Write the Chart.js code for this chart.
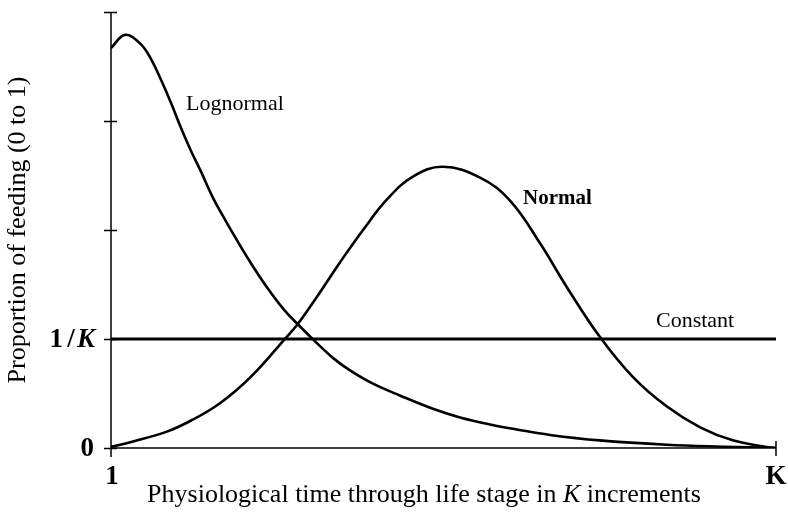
<!DOCTYPE html>
<html>
<head>
<meta charset="utf-8">
<script src="https://cdn.jsdelivr.net/npm/chart.js@4/dist/chart.umd.min.js"></script>
<style>
html,body{margin:0;padding:0;background:#fff;}
#wrap{width:788px;height:512px;position:relative;}
</style>
</head>
<body>
<div id="wrap"><canvas id="c" width="788" height="512"></canvas></div>
<script>
// ---- data (x: percent of life stage from 1 to K, y: proportion in units of 1/K) ----
const lognormalX = [0, 2.1, 4.4, 6, 7.5, 9, 10.5, 12, 13.5, 15.3, 17.1, 19, 21, 23.5, 26, 28.5, 31, 33.5, 36, 39.4, 43.5, 48.4, 52.5, 57, 61, 66, 73.5, 83.6, 92, 100];
const lognormalY = [3.67, 3.79, 3.71, 3.57, 3.38, 3.17, 2.94, 2.73, 2.54, 2.30, 2.10, 1.90, 1.70, 1.47, 1.27, 1.11, 0.96, 0.82, 0.71, 0.59, 0.48, 0.36, 0.28, 0.215, 0.17, 0.12, 0.07, 0.03, 0.012, 0];
const normalX = [0, 3.3, 8.4, 12.3, 15.9, 19.4, 22.4, 25.7, 28.0, 31.0, 34.4, 37.9, 41.5, 45.4, 49.9, 55.5, 60.0, 64.5, 68.6, 73.5, 78.5, 83.6, 88.6, 93.5, 98.6, 100];
const normalY = [0.01, 0.06, 0.15, 0.26, 0.39, 0.56, 0.74, 0.97, 1.13, 1.39, 1.70, 2.00, 2.28, 2.49, 2.58, 2.48, 2.27, 1.88, 1.47, 1.02, 0.65, 0.38, 0.19, 0.07, 0.01, 0];
const constantX = [0, 100];
const constantY = [1, 1];
const yTickValues = [0, 1, 2, 3, 4];
const yTickLabels = ['0', '1/K', '', '', ''];
const xTickValues = [0, 100];
const xTickLabels = ['1', 'K'];
const seriesNames = ['Lognormal', 'Normal', 'Constant'];

function pts(xs, ys){ return xs.map((x,i)=>({x:x, y:ys[i]})); }

const SERIF = '"Liberation Serif", "Times New Roman", serif';

const overlay = {
  id: 'overlay',
  afterDraw(chart){
    const ctx = chart.ctx;
    const xs = chart.scales.x, ys = chart.scales.y;
    const area = chart.chartArea;
    ctx.save();
    ctx.strokeStyle = '#000';
    ctx.fillStyle = '#000';
    // axes
    ctx.lineWidth = 1.5;
    ctx.beginPath();
    ctx.moveTo(area.left, area.top); ctx.lineTo(area.left, area.bottom + 9);
    ctx.moveTo(area.left, area.bottom); ctx.lineTo(area.right, area.bottom);
    ctx.stroke();
    // y tick marks crossing the axis
    ctx.beginPath();
    yTickValues.forEach(v=>{
      const py = Math.round(ys.getPixelForValue(v)) + 0.5;
      ctx.moveTo(area.left - 7, py); ctx.lineTo(area.left + 6, py);
    });
    // x tick at K
    const pk = Math.round(xs.getPixelForValue(xTickValues[1]));
    ctx.moveTo(pk, area.bottom - 7); ctx.lineTo(pk, area.bottom + 8);
    ctx.stroke();

    // y tick labels
    ctx.textBaseline = 'middle';
    yTickValues.forEach((v,i)=>{
      const lab = yTickLabels[i];
      if (!lab) return;
      const py = ys.getPixelForValue(v) + 1;
      if (lab.indexOf('/K') >= 0){
        const parts = lab.split('/');
        ctx.font = 'bold 27px ' + SERIF;
        ctx.textAlign = 'right';
        ctx.fillText(parts[0], area.left - 48, py);
        ctx.textAlign = 'center';
        ctx.fillText('/', area.left - 40, py);
        ctx.font = 'italic bold 27px ' + SERIF;
        ctx.textAlign = 'left';
        ctx.fillText('K', area.left - 34, py);
      } else {
        ctx.font = 'bold 27px ' + SERIF;
        ctx.textAlign = 'right';
        ctx.fillText(lab, area.left - 17, py);
      }
    });
    // x tick labels
    ctx.textAlign = 'center';
    ctx.font = 'bold 27px ' + SERIF;
    xTickValues.forEach((v,i)=>{
      ctx.fillText(xTickLabels[i], xs.getPixelForValue(v) + (i === 0 ? 1 : 0), area.bottom + 29);
    });

    // x axis title with italic K
    const segs = [['Physiological time through life stage in ', ''], ['K', 'italic '], [' increments', '']];
    ctx.textAlign = 'left';
    ctx.textBaseline = 'alphabetic';
    let total = 0;
    segs.forEach(s=>{ ctx.font = s[1] + '26px ' + SERIF; total += ctx.measureText(s[0]).width; });
    let cx = 424 - total/2;
    segs.forEach(s=>{ ctx.font = s[1] + '26px ' + SERIF; ctx.fillText(s[0], cx, 502); cx += ctx.measureText(s[0]).width; });

    // y axis title
    ctx.save();
    ctx.translate(18, 230);
    ctx.rotate(-Math.PI/2);
    ctx.textAlign = 'center';
    ctx.textBaseline = 'middle';
    ctx.font = '26px ' + SERIF;
    ctx.fillText('Proportion of feeding (0 to 1)', 0, 0);
    ctx.restore();

    // series labels
    ctx.textBaseline = 'middle';
    ctx.textAlign = 'left';
    ctx.font = '22px ' + SERIF;
    ctx.fillText(seriesNames[0], 186, 104);
    ctx.font = 'bold 21px ' + SERIF;
    ctx.fillText(seriesNames[1], 523, 199);
    ctx.font = '22px ' + SERIF;
    ctx.fillText(seriesNames[2], 656, 321);
    ctx.restore();
  }
};

new Chart(document.getElementById('c'), {
  type: 'line',
  data: {
    datasets: [
      { label: seriesNames[0], data: pts(lognormalX, lognormalY), borderColor: '#000', borderWidth: 2.6, pointRadius: 0, tension: 0.4, fill: false },
      { label: seriesNames[1], data: pts(normalX, normalY), borderColor: '#000', borderWidth: 2.6, pointRadius: 0, tension: 0.4, fill: false },
      { label: seriesNames[2], data: pts(constantX, constantY), borderColor: '#000', borderWidth: 3, pointRadius: 0, fill: false }
    ]
  },
  options: {
    responsive: false,
    animation: false,
    events: [],
    layout: { padding: { left: 111, right: 12, top: 12, bottom: 64 } },
    plugins: { legend: { display: false }, tooltip: { enabled: false } },
    scales: {
      x: { type: 'linear', min: 0, max: 100, display: false },
      y: { type: 'linear', min: 0, max: 4, display: false }
    }
  },
  plugins: [overlay]
});
</script>
</body>
</html>
